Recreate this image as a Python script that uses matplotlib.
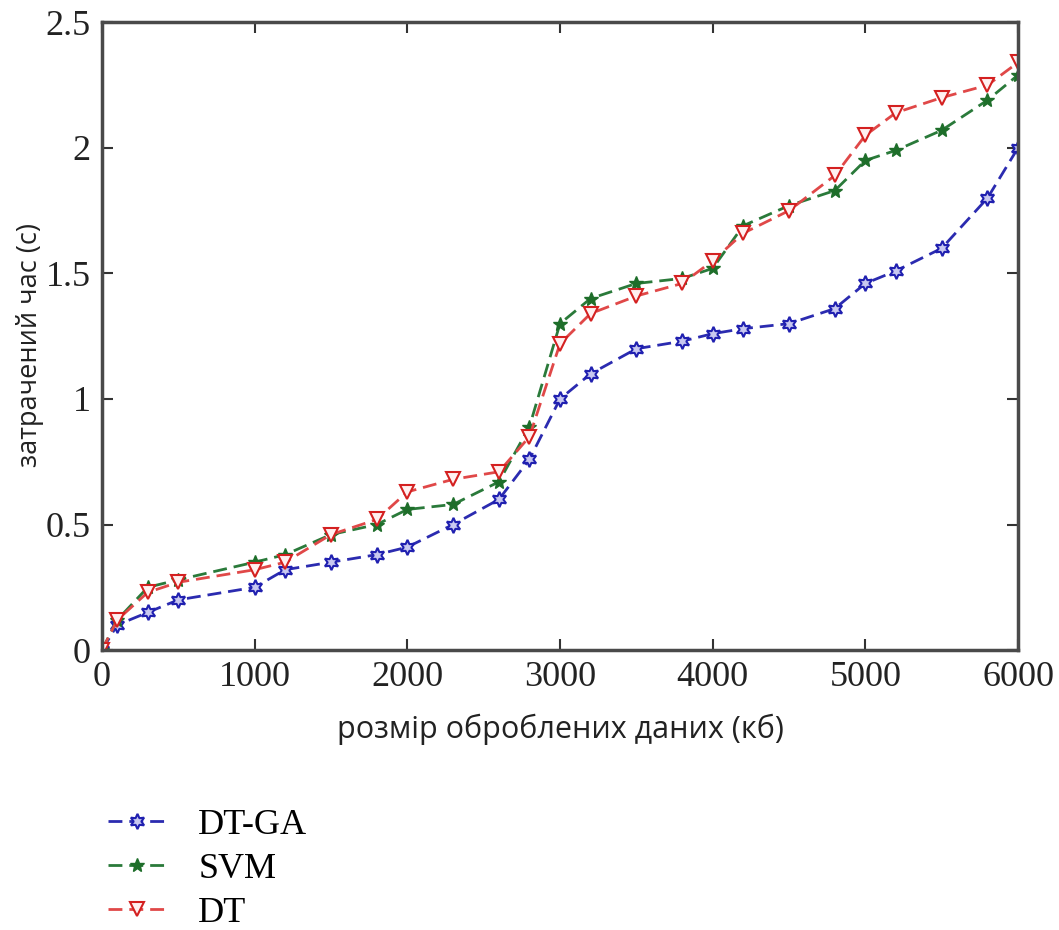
import matplotlib
matplotlib.use("Agg")
import matplotlib.pyplot as plt

# розмір даних (кб)
x_kb = [0, 100, 300, 500, 1000, 1200, 1500, 1800, 2000, 2300, 2600, 2800, 3000,
        3200, 3500, 3800, 4000, 4200, 4500, 4800, 5000, 5200, 5500, 5800, 6000]

dt_ga = [0, 0.10, 0.15, 0.20, 0.25, 0.32, 0.35, 0.38, 0.41, 0.50, 0.60, 0.76, 1.00,
         1.10, 1.20, 1.23, 1.26, 1.28, 1.30, 1.36, 1.46, 1.51, 1.60, 1.80, 2.00]
svm = [0, 0.12, 0.25, 0.28, 0.35, 0.38, 0.46, 0.50, 0.56, 0.58, 0.67, 0.89, 1.30,
       1.40, 1.46, 1.48, 1.52, 1.69, 1.77, 1.83, 1.95, 1.99, 2.07, 2.19, 2.29]
dt = [0, 0.12, 0.23, 0.27, 0.32, 0.35, 0.46, 0.52, 0.63, 0.68, 0.71, 0.85, 1.22,
      1.34, 1.41, 1.46, 1.55, 1.66, 1.75, 1.89, 2.05, 2.14, 2.20, 2.25, 2.34]

xticks = [0, 1000, 2000, 3000, 4000, 5000, 6000]
yticks = [0, 0.5, 1, 1.5, 2, 2.5]
ytick_labels = ["0", "0.5", "1", "1.5", "2", "2.5"]

serif = "Liberation Serif"
sans = "Open Sans"

fig = plt.figure(figsize=(10.59, 9.30), dpi=100)
ax = fig.add_axes([0.0963, 0.301, 0.865, 0.675])

dash = (5, 2.5)
# лінії
ax.plot(x_kb, dt_ga, ls="--", dashes=dash, lw=2, color="#2b2bb0", marker=(6, 1, 0), ms=11,
        mfc="#c8c8f0", mec="#2020b0", mew=1.5, label="DT-GA")
ax.plot(x_kb, svm, ls="--", dashes=dash, lw=2, color="#2a7a3a", marker="*", ms=10,
        mfc="#1e6e2a", mec="#1e6e2a", label="SVM")
ax.plot(x_kb, dt, ls="--", dashes=dash, lw=2, color="#e04848", marker="v", ms=10,
        mfc="#fff0f0", mec="#d42020", mew=1.5, label="DT")

ax.set_xlim(0, 6000)
ax.set_ylim(0, 2.5)
ax.set_xticks(xticks)
ax.set_xticklabels([str(t) for t in xticks], fontfamily=serif, fontsize=26)
ax.set_yticks(yticks)
ax.set_yticklabels(ytick_labels, fontfamily=serif, fontsize=26)
ax.tick_params(direction="in", length=8, width=1.5, top=True, right=True,
               colors="#333333", labelcolor="#222222", pad=8)
for s in ax.spines.values():
    s.set_linewidth(2.5)
    s.set_color("#4a4a4a")

ax.set_xlabel("розмір оброблених даних (кб)", fontfamily=sans, fontsize=22,
              color="#222222", labelpad=14)
# підпис осі y трохи нижче центру, як в оригіналі
fig.text(30 / 1059, 1 - 345 / 930, "затрачений час (с)", rotation=90,
         ha="center", va="center", fontfamily=sans, fontsize=19.5, color="#222222")

ax.legend(loc="upper left", bbox_to_anchor=(0.085, 0.15), bbox_transform=fig.transFigure,
          frameon=False, prop={"family": serif, "size": 26}, handlelength=1.6,
          handletextpad=0.9, labelspacing=0.3, borderpad=0)

fig.savefig("out.png", dpi=100)
